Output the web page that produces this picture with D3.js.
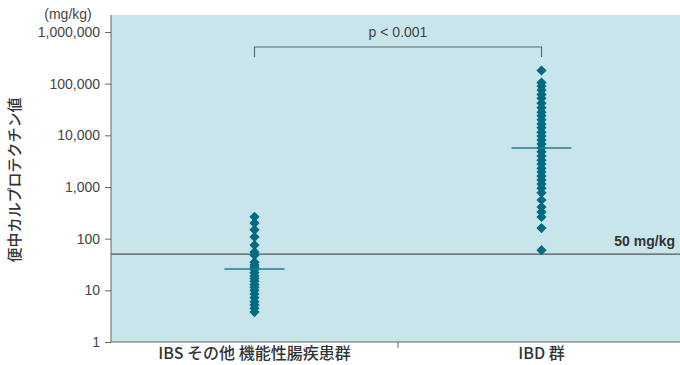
<!DOCTYPE html>
<html>
<head>
<meta charset="utf-8">
<script src="https://cdn.jsdelivr.net/npm/d3@7"></script>
<style>
  body { margin: 0; background: #fff; }
  svg { display: block; font-family: "Noto Sans CJK JP", "Noto Sans", sans-serif; }
</style>
</head>
<body>
<svg id="chart" width="680" height="365"></svg>
<script>
// values (mg/kg)
const groups = ["IBS その他 機能性腸疾患群", "IBD 群"];
const ibsValues = [265, 200, 148, 108, 75, 55, 48, 35, 31, 28, 25, 22, 19, 17, 15, 13, 11.5, 10, 8.5, 7.2, 6, 5.2, 4.5, 3.8];
const ibdValues = [180000, 105000, 90000, 75000, 62000, 52000, 42000, 34000, 28000, 24000, 20000,
  16500, 14000, 11500, 9700, 8100, 6800, 5700, 4800, 4000, 3300, 2800, 2300, 1950, 1630,
  1370, 1140, 950, 770, 560, 410, 330, 263, 160, 60];
const means = [26, 5700];
const cutoff = 50;
const yTicks = [1, 10, 100, 1000, 10000, 100000, 1000000];

const svg = d3.select("#chart");
const plotLeft = 111, plotRight = 680, plotBottom = 342, plotTop = 15;

const y = d3.scaleLog()
  .domain([1, 1000000])
  .range([plotBottom, 32]);

const x = d3.scaleBand()
  .domain(groups)
  .range([plotLeft, 685]);

// plot background
svg.append("rect")
  .attr("x", plotLeft)
  .attr("y", plotTop)
  .attr("width", plotRight - plotLeft)
  .attr("height", plotBottom - plotTop)
  .attr("fill", "#c9e5ec");

// y axis
const yAxis = svg.append("g")
  .attr("transform", "translate(" + plotLeft + ",0)")
  .call(d3.axisLeft(y).tickValues(yTicks).tickFormat(d3.format(",")).tickSize(6).tickPadding(5));
yAxis.select(".domain").attr("stroke", "#666").attr("d", "M0," + plotTop + "V" + plotBottom);
yAxis.selectAll(".tick line").attr("stroke", "#666");
yAxis.selectAll(".tick text")
  .attr("fill", "#444")
  .style("font-size", "14px")
  .style("font-family", "Liberation Sans, sans-serif");

// x axis
const xAxis = svg.append("g")
  .attr("transform", "translate(0," + plotBottom + ")");
xAxis.append("line")
  .attr("x1", plotLeft).attr("x2", plotRight)
  .attr("stroke", "#666");
xAxis.append("line")
  .attr("x1", x.range()[0] + x.step()).attr("x2", x.range()[0] + x.step())
  .attr("y1", 0).attr("y2", 6)
  .attr("stroke", "#666");
xAxis.selectAll("text.cat")
  .data(groups)
  .join("text")
  .attr("class", "cat")
  .attr("x", d => x(d) + x.bandwidth() / 2)
  .attr("y", 17)
  .attr("text-anchor", "middle")
  .attr("fill", "#333")
  .style("font-size", "16px")
  .style("font-weight", "500")
  .text(d => d);

// unit and axis title
svg.append("text")
  .attr("x", 68).attr("y", 19)
  .attr("text-anchor", "middle")
  .attr("fill", "#444")
  .style("font-size", "14px")
  .style("font-family", "Liberation Sans, sans-serif")
  .text("(mg/kg)");

svg.append("text")
  .attr("transform", "translate(20,180) rotate(-90)")
  .attr("text-anchor", "middle")
  .attr("fill", "#333")
  .style("font-size", "15px")
  .style("font-weight", "500")
  .text("便中カルプロテクチン値");

// 50 mg/kg cut-off
svg.append("line")
  .attr("x1", plotLeft).attr("x2", plotRight)
  .attr("y1", y(cutoff)).attr("y2", y(cutoff))
  .attr("stroke", "#555")
  .attr("stroke-width", 1.2);
svg.append("text")
  .attr("x", 675).attr("y", y(cutoff) - 8)
  .attr("text-anchor", "end")
  .attr("fill", "#333")
  .style("font-size", "14px")
  .style("font-weight", "bold")
  .style("font-family", "Liberation Sans, sans-serif")
  .text("50 mg/kg");

// significance bracket
const cx = groups.map(g => x(g) + x.bandwidth() / 2);
svg.append("path")
  .attr("d", "M" + cx[0] + ",57V47H" + cx[1] + "V57")
  .attr("fill", "none")
  .attr("stroke", "#666")
  .attr("stroke-width", 1.2);
svg.append("text")
  .attr("x", (cx[0] + cx[1]) / 2).attr("y", 37)
  .attr("text-anchor", "middle")
  .attr("fill", "#444")
  .style("font-size", "14px")
  .style("font-family", "Liberation Sans, sans-serif")
  .text("p < 0.001");

// points
const diamond = d3.symbol().type(d3.symbolSquare).size(52);
const points = [
  ...ibsValues.map(v => ({ g: groups[0], v })),
  ...ibdValues.map(v => ({ g: groups[1], v }))
];
svg.append("g")
  .selectAll("path")
  .data(points)
  .join("path")
  .attr("d", diamond)
  .attr("transform", d => "translate(" + (x(d.g) + x.bandwidth() / 2) + "," + y(d.v) + ") rotate(45)")
  .attr("fill", "#006b82");

// mean lines
svg.append("g")
  .selectAll("line")
  .data(means)
  .join("line")
  .attr("x1", (d, i) => cx[i] - 30)
  .attr("x2", (d, i) => cx[i] + 30)
  .attr("y1", d => y(d))
  .attr("y2", d => y(d))
  .attr("stroke", "#1a7d90")
  .attr("stroke-width", 1.5);
</script>
</body>
</html>
